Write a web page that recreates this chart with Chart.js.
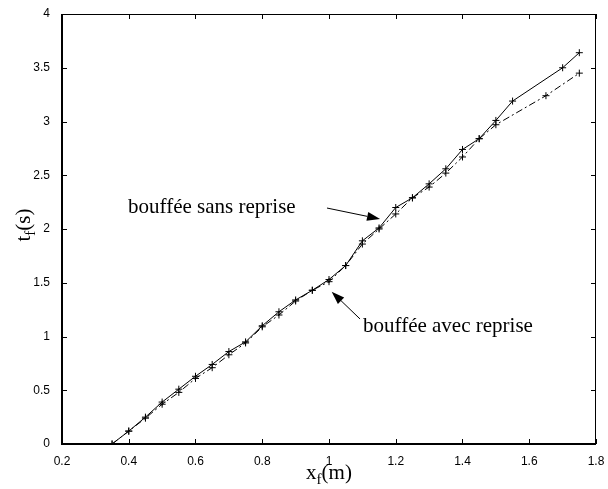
<!DOCTYPE html>
<html>
<head>
<meta charset="utf-8">
<script src="https://cdn.jsdelivr.net/npm/chart.js@4/dist/chart.umd.min.js"></script>
<style>
html,body{margin:0;padding:0;background:#fff;}
#wrap{width:608px;height:489px;}
</style>
</head>
<body>
<div id="wrap"><canvas id="c" width="608" height="489"></canvas></div>
<script>
// x positions (m) and arrival times (s), bouffée sans reprise (solid)
const xSans = [0.35,0.40,0.45,0.50,0.55,0.60,0.65,0.70,0.75,0.80,0.85,0.90,0.95,1.00,1.05,1.10,1.15,1.20,1.25,1.30,1.35,1.40,1.45,1.50,1.55,1.70,1.75];
const tSans = [0,0.12,0.25,0.39,0.51,0.63,0.74,0.86,0.95,1.10,1.23,1.34,1.43,1.53,1.66,1.89,2.01,2.20,2.29,2.42,2.56,2.74,2.84,3.01,3.19,3.50,3.64];
// bouffée avec reprise (dash-dot)
const xAvec = [0.35,0.40,0.45,0.50,0.55,0.60,0.65,0.70,0.75,0.80,0.85,0.90,0.95,1.00,1.05,1.10,1.15,1.20,1.25,1.30,1.35,1.40,1.45,1.50,1.65,1.75];
const tAvec = [0,0.12,0.24,0.37,0.48,0.61,0.71,0.83,0.94,1.09,1.20,1.33,1.43,1.51,1.66,1.86,2.00,2.14,2.29,2.39,2.52,2.67,2.84,2.97,3.24,3.45];
// tick labels
const xTickLabels = ['0.2','0.4','0.6','0.8','1','1.2','1.4','1.6','1.8'];
const yTickLabels = ['0','0.5','1','1.5','2','2.5','3','3.5','4'];
// annotations
const annSansText = 'bouffée sans reprise';
const annAvecText = 'bouffée avec reprise';

const toPts = (xs, ys) => xs.map((x, i) => ({x: x, y: ys[i]}));

const overlay = {
  id: 'overlay',
  afterDraw(chart) {
    const ctx = chart.ctx;
    const xs = chart.scales.x, ys = chart.scales.y;
    const a = chart.chartArea;
    ctx.save();
    ctx.strokeStyle = '#000';
    // frame
    ctx.lineWidth = 1;
    ctx.beginPath();
    ctx.moveTo(a.left, a.top + 0.5); ctx.lineTo(a.right, a.top + 0.5);
    ctx.moveTo(a.right - 0.5, a.top); ctx.lineTo(a.right - 0.5, a.bottom);
    ctx.stroke();
    ctx.lineWidth = 2;
    ctx.beginPath();
    ctx.moveTo(a.left, a.bottom); ctx.lineTo(a.right, a.bottom);
    ctx.moveTo(a.left, a.top); ctx.lineTo(a.left, a.bottom + 1);
    ctx.stroke();
    // inward ticks
    ctx.lineWidth = 1;
    const tl = 5;
    ctx.beginPath();
    xs.ticks.forEach(t => {
      const p = Math.round(xs.getPixelForValue(t.value)) + 0.5;
      ctx.moveTo(p, a.bottom); ctx.lineTo(p, a.bottom - tl);
      ctx.moveTo(p, a.top); ctx.lineTo(p, a.top + tl);
    });
    ys.ticks.forEach(t => {
      const p = Math.round(ys.getPixelForValue(t.value)) + 0.5;
      ctx.moveTo(a.left, p); ctx.lineTo(a.left + tl, p);
      ctx.moveTo(a.right, p); ctx.lineTo(a.right - tl, p);
    });
    ctx.stroke();

    // annotations
    ctx.fillStyle = '#000';
    ctx.font = '21px "Liberation Serif", "Times New Roman", serif';
    ctx.textBaseline = 'alphabetic';
    ctx.textAlign = 'left';
    ctx.fillText(annSansText, xs.getPixelForValue(0.398), ys.getPixelForValue(2.149));
    ctx.fillText(annAvecText, xs.getPixelForValue(1.102), ys.getPixelForValue(1.042));

    function arrow(x0, y0, x1, y1) {
      const px0 = xs.getPixelForValue(x0), py0 = ys.getPixelForValue(y0);
      const px1 = xs.getPixelForValue(x1), py1 = ys.getPixelForValue(y1);
      const ang = Math.atan2(py1 - py0, px1 - px0);
      const L = 13, W = 4.5;
      const bx = px1 - L * Math.cos(ang), by = py1 - L * Math.sin(ang);
      ctx.lineWidth = 1;
      ctx.beginPath();
      ctx.moveTo(px0, py0); ctx.lineTo(bx, by);
      ctx.stroke();
      ctx.beginPath();
      ctx.moveTo(px1, py1);
      ctx.lineTo(bx + W * Math.sin(ang), by - W * Math.cos(ang));
      ctx.lineTo(bx - W * Math.sin(ang), by + W * Math.cos(ang));
      ctx.closePath();
      ctx.fill();
    }
    arrow(0.994, 2.195, 1.153, 2.093);
    arrow(1.093, 1.163, 1.008, 1.417);

    // axis titles
    const big = '21px "Liberation Serif", "Times New Roman", serif';
    const small = '15px "Liberation Serif", "Times New Roman", serif';
    function subLabel(main, sub, rest) {
      ctx.font = big; const w1 = ctx.measureText(main).width;
      const w3 = ctx.measureText(rest).width;
      ctx.font = small; const w2 = ctx.measureText(sub).width;
      return {w1, w2, w3, total: w1 + w2 + w3};
    }
    // x label
    let m = subLabel('x', 'f', '(m)');
    let cx = (a.left + a.right) / 2;
    let sx = cx - m.total / 2, base = 479;
    ctx.textAlign = 'left';
    ctx.font = big; ctx.fillText('x', sx, base);
    ctx.font = small; ctx.fillText('f', sx + m.w1, base + 5);
    ctx.font = big; ctx.fillText('(m)', sx + m.w1 + m.w2, base);
    // y label
    m = subLabel('t', 'f', '(s)');
    ctx.save();
    ctx.translate(30, (a.top + a.bottom) / 2 - 4);
    ctx.rotate(-Math.PI / 2);
    sx = -m.total / 2;
    ctx.font = big; ctx.fillText('t', sx, 0);
    ctx.font = small; ctx.fillText('f', sx + m.w1, 5);
    ctx.font = big; ctx.fillText('(s)', sx + m.w1 + m.w2, 0);
    ctx.restore();
    ctx.restore();
  }
};

new Chart(document.getElementById('c'), {
  type: 'scatter',
  data: {
    datasets: [
      {
        label: 'sans reprise',
        data: toPts(xSans, tSans),
        showLine: true,
        borderColor: '#000',
        backgroundColor: '#000',
        borderWidth: 1,
        tension: 0,
        pointStyle: 'cross',
        pointRadius: 3.5,
        pointBorderWidth: 1,
        pointBorderColor: '#000'
      },
      {
        label: 'avec reprise',
        data: toPts(xAvec, tAvec),
        showLine: true,
        borderColor: '#000',
        backgroundColor: '#000',
        borderWidth: 1,
        borderDash: [7, 3, 2, 3],
        tension: 0,
        pointStyle: 'cross',
        pointRadius: 3.5,
        pointBorderWidth: 1,
        pointBorderColor: '#000'
      }
    ]
  },
  options: {
    responsive: false,
    animation: false,
    devicePixelRatio: 1,
    layout: { padding: { left: 0, right: 12, top: 14, bottom: 0 } },
    plugins: { legend: { display: false }, tooltip: { enabled: false } },
    scales: {
      x: {
        type: 'linear', min: 0.2, max: 1.8,
        afterFit(s) { s.height = 45; },
        grid: { display: false }, border: { display: false },
        ticks: {
          stepSize: 0.2, color: '#000', padding: 2, maxRotation: 0, autoSkip: false,
          font: { family: '"Liberation Sans", Arial, sans-serif', size: 12 },
          callback: (v, i) => xTickLabels[i]
        }
      },
      y: {
        type: 'linear', min: 0, max: 4,
        afterFit(s) { s.width = 62; },
        grid: { display: false }, border: { display: false },
        ticks: {
          stepSize: 0.5, color: '#000', padding: 4, autoSkip: false,
          font: { family: '"Liberation Sans", Arial, sans-serif', size: 12 },
          callback: (v, i) => yTickLabels[i]
        }
      }
    }
  },
  plugins: [overlay]
});
</script>
</body>
</html>
